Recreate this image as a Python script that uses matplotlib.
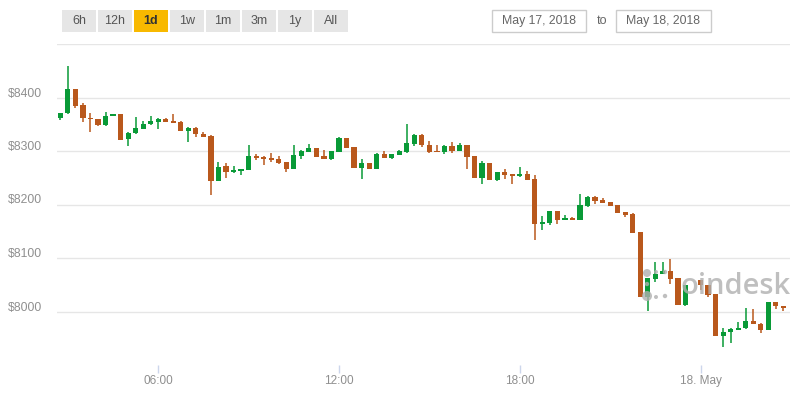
import numpy as np
import pandas as pd
import matplotlib
matplotlib.use('Agg')
import matplotlib.pyplot as plt
import matplotlib.dates as mdates
from matplotlib.patches import Rectangle, Ellipse
from matplotlib.transforms import ScaledTranslation

plt.rcParams['font.family'] = ['Liberation Sans', 'DejaVu Sans']

# 15-minute BTC candles, May 17 02:45 -> May 18 02:45 (one missing slot at 23:45)
times = pd.date_range('2018-05-17 02:45', periods=97, freq='15min')

opens = [8361, 8371, 8415, 8386, 8361, 8360, 8348, 8365, 8370, 8322,
         8333, 8342, 8350, 8355, 8360, 8356, 8355, 8338, 8343, 8332,
         8328, 8244, 8272, 8260, 8263, 8265, 8291, 8289, 8287, 8285,
         8280, 8266, 8291, 8298, 8306, 8291, 8285, 8298, 8324, 8308,
         8268, 8278, 8266, 8295, 8287, 8293, 8298, 8313, 8330, 8311,
         8300, 8298, 8310, 8300, 8311, 8291, 8250, 8278, 8246, 8261,
         8257, 8253, 8257, 8248, 8164, 8166, 8188, 8171, 8174, 8171,
         8198, 8214, 8208, 8204, 8199, 8186, 8182, 8148, 8027, 8060,
         8070, 8075, 8062, 8012, np.nan, 8058, 8050, 8032, 7954, 7961,
         7966, 7969, 7983, 7977, 7965, 8017, 8011]
highs = [8371, 8458, 8415, 8390, 8371, 8360, 8373, 8370, 8370, 8336,
         8364, 8356, 8366, 8361, 8362, 8370, 8356, 8344, 8345, 8336,
         8329, 8280, 8278, 8272, 8267, 8311, 8295, 8291, 8296, 8291,
         8280, 8311, 8301, 8313, 8306, 8302, 8300, 8326, 8325, 8308,
         8285, 8278, 8296, 8300, 8295, 8302, 8351, 8332, 8331, 8319,
         8311, 8311, 8317, 8315, 8312, 8291, 8281, 8278, 8261, 8266,
         8257, 8270, 8263, 8255, 8178, 8188, 8188, 8180, 8176, 8220,
         8216, 8215, 8212, 8204, 8199, 8186, 8184, 8148, 8063, 8092,
         8092, 8098, 8062, 8050, np.nan, 8058, 8050, 8032, 7970, 7970,
         7981, 8007, 8004, 7978, 8017, 8017, 8011]
lows = [8358, 8370, 8381, 8355, 8336, 8347, 8347, 8365, 8321, 8310,
        8332, 8341, 8349, 8341, 8354, 8352, 8338, 8316, 8326, 8327,
        8218, 8244, 8250, 8259, 8255, 8264, 8283, 8274, 8280, 8276,
        8261, 8266, 8285, 8298, 8289, 8285, 8283, 8298, 8305, 8268,
        8248, 8266, 8266, 8287, 8285, 8292, 8296, 8310, 8308, 8296,
        8298, 8295, 8296, 8300, 8266, 8250, 8238, 8246, 8244, 8248,
        8238, 8252, 8245, 8134, 8152, 8162, 8164, 8171, 8171, 8171,
        8196, 8201, 8203, 8198, 8184, 8177, 8147, 8027, 8001, 8056,
        8070, 8051, 8012, 8011, np.nan, 8041, 8028, 7954, 7933, 7942,
        7965, 7968, 7976, 7959, 7965, 8004, 8001]
closes = [8371, 8415, 8385, 8361, 8359, 8348, 8365, 8369, 8321, 8333,
          8343, 8351, 8356, 8360, 8355, 8353, 8338, 8343, 8331, 8327,
          8244, 8271, 8260, 8265, 8266, 8291, 8287, 8285, 8283, 8278,
          8266, 8293, 8300, 8306, 8289, 8285, 8300, 8324, 8306, 8268,
          8278, 8266, 8294, 8287, 8294, 8300, 8315, 8330, 8311, 8298,
          8299, 8309, 8300, 8311, 8289, 8250, 8278, 8246, 8261, 8255,
          8253, 8257, 8246, 8164, 8168, 8188, 8171, 8174, 8171, 8199,
          8214, 8207, 8203, 8198, 8184, 8181, 8147, 8027, 8062, 8071,
          8075, 8060, 8012, 8049, np.nan, 8049, 8030, 7954, 7962, 7968,
          7970, 7983, 7976, 7965, 8017, 8010, 8006]

y_ticks = [8000, 8100, 8200, 8300, 8400, 8500]
y_labels = ['$8000', '$8100', '$8200', '$8300', '$8400', '']
x_ticks = ['2018-05-17 06:00', '2018-05-17 12:00', '2018-05-17 18:00', '2018-05-18 00:00']
x_labels = ['06:00', '12:00', '18:00', '18. May']
buttons = ['6h', '12h', '1d', '1w', '1m', '3m', '1y', 'All']
selected = '1d'

UP = '#099a37'
DOWN = '#b9581c'

W, H = 800, 400
fig = plt.figure(figsize=(8, 4), dpi=100)
ax = fig.add_axes([57 / W, 1 - 365 / H, (790 - 57) / W, (365 - 44) / H])

t = mdates.date2num(times.to_pydatetime())
o = np.array(opens, float)
hi = np.array(highs, float)
lo = np.array(lows, float)
c = np.array(closes, float)
ok = ~np.isnan(o)
up = c > o
colors = np.where(up, UP, DOWN)

body_w = 5.2 / 30.13 / 24  # ~5 px wide, in days
bottoms = np.minimum(o, c)
heights = np.maximum(np.abs(c - o), 1.0)
ax.vlines(t[ok], lo[ok], hi[ok], colors=colors[ok], linewidth=1.1, zorder=2)
ax.bar(t[ok], heights[ok], bottom=bottoms[ok], width=body_w,
       color=colors[ok], linewidth=0, zorder=3)

day0 = mdates.date2num(pd.Timestamp('2018-05-17').to_pydatetime())
ax.set_xlim(day0 + 2.64 / 24, day0 + 26.97 / 24)
ax.set_ylim(7900, 8500)

for yv in y_ticks:
    ax.axhline(yv, color='#e6e6e6', linewidth=1, zorder=1)

ax.set_yticks(y_ticks)
ax.set_yticklabels(y_labels)
ax.tick_params(axis='y', length=0, pad=10.5, labelsize=8.8, labelcolor='#8f8f8f')
for lab in ax.get_yticklabels():
    lab.set_transform(lab.get_transform() + ScaledTranslation(0, 0.055, fig.dpi_scale_trans))

ax.set_xticks(mdates.date2num(pd.to_datetime(x_ticks).to_pydatetime()))
ax.set_xticklabels(x_labels)
ax.tick_params(axis='x', length=5.8, width=1, color='#ccd6eb', pad=1.5,
               labelsize=8.5, labelcolor='#8f8f8f')

for s in ax.spines.values():
    s.set_visible(False)


def px(x, y):
    return x / W, 1 - y / H


# range selector buttons
for i, b in enumerate(buttons):
    x0 = 62 + i * 36
    sel = b == selected
    fig.patches.append(Rectangle(px(x0, 32), 34 / W, 22 / H, transform=fig.transFigure,
                                 facecolor='#f8b900' if sel else '#e6e6e6',
                                 edgecolor='none'))
    fig.text(*px(x0 + 17, 21), b, ha='center', va='center', fontsize=9,
             color='#333333' if sel else '#555555',
             fontweight='bold' if sel else 'normal')

# date inputs
for x0, x1, txt in [(492, 586, 'May 17, 2018'), (616, 711, 'May 18, 2018')]:
    fig.patches.append(Rectangle(px(x0, 31.5), (x1 - x0) / W, 21.5 / H, transform=fig.transFigure,
                                 facecolor='white', edgecolor='#cccccc', linewidth=1))
    fig.text(*px((x0 + x1) / 2, 21), txt, ha='center', va='center', fontsize=8.8, color='#666666')
fig.text(*px(602, 21), 'to', ha='center', va='center', fontsize=9, color='#666666')

# watermark (dot "c" + text)
dots = [(647, 273, 4.0), (656, 272, 2.0), (665, 272, 2.2),
        (647, 284, 2.2), (647, 296, 5.0), (656, 297, 2.0), (665, 296, 2.2)]
for dx, dy, r in dots:
    fig.patches.append(Ellipse(px(dx, dy), 2 * r / W, 2 * r / H, transform=fig.transFigure,
                               facecolor='#b0b0b0', edgecolor='none', alpha=0.8, zorder=5))
fig.text(*px(681, 294), 'oindesk', ha='left', va='baseline', fontsize=21,
         color='#b0b0b0', alpha=0.8, family='Open Sans', fontweight='semibold', zorder=5)

fig.savefig('out.png', dpi=100)
